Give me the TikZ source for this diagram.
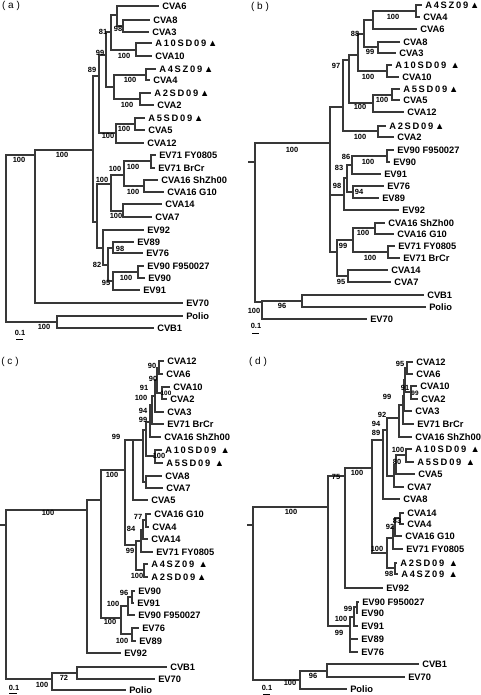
\documentclass[tikz,border=0pt]{standalone}
\usepackage{fontspec}
\setmainfont{Liberation Sans}
\newcounter{bsc}
\tikzset{
  x=0.75pt, y=-0.75pt,
  br/.style={draw=black!78, line width=0.9pt},
  leaf/.style={anchor=west, inner xsep=2.25pt, inner ysep=0pt, text height=5pt, text depth=0pt, font=\fontsize{7}{8}\selectfont\bfseries},
  bs/.style={inner sep=0pt, text height=4pt, text depth=0pt, font=\fontsize{5.6}{6}\selectfont\bfseries},
  bss/.style={inner sep=0pt, text height=3.6pt, text depth=0pt, font=\fontsize{4.8}{5}\selectfont\bfseries},
  plab/.style={inner sep=0pt, font=\fontsize{7.5}{9}\selectfont},
  sbar/.style={draw=black, line width=0.7pt},
}
\newcommand\leafn[4]{\node[leaf] (#1) at ({#2-3},#3) {#4};}
\newcommand\bval[3]{\stepcounter{bsc}\node[bs] (bv\arabic{bsc}) at (#1,#2) {#3};}
\newcommand\bvals[3]{\stepcounter{bsc}\node[bss] (bv\arabic{bsc}) at (#1,#2) {#3};}
\newcommand\clade[2]{\foreach \ch in {#2}{\draw[br] (#1) |- (\ch);}}
\newcommand\lsp[1]{{\addfontfeature{LetterSpace=19}#1}}
\newcommand\trig{▲}
\begin{document}
\begin{tikzpicture}
\useasboundingbox (0,0) rectangle (480,695);
% ================= (a) =================
\node[plab] (pa) at (11,6) {( a )};
\leafn{a1}{162}{6}{CVA6}
\leafn{a2}{153}{20}{CVA8}
\leafn{a3}{152}{32}{CVA3}
\leafn{a4}{155}{43}{\lsp{A10SD09\trig}}
\leafn{a5}{155}{56}{CVA10}
\leafn{a6}{159}{69}{\lsp{A4SZ09\trig}}
\leafn{a7}{153}{80}{CVA4}
\leafn{a8}{154}{93}{\lsp{A2SD09\trig}}
\leafn{a9}{157}{105}{CVA2}
\leafn{a10}{148}{118}{\lsp{A5SD09\trig}}
\leafn{a11}{148}{130}{CVA5}
\leafn{a12}{147}{143}{CVA12}
\leafn{a13}{159}{155}{EV71 FY0805}
\leafn{a14}{158}{168}{EV71 BrCr}
\leafn{a15}{161}{180}{CVA16 ShZh00}
\leafn{a16}{167}{192}{CVA16 G10}
\leafn{a17}{165}{204}{CVA14}
\leafn{a18}{155}{217}{CVA7}
\leafn{a19}{147}{230}{EV92}
\leafn{a20}{137}{242}{EV89}
\leafn{a21}{146}{253}{EV76}
\leafn{a22}{147}{266}{EV90 F950027}
\leafn{a23}{148}{278}{EV90}
\leafn{a24}{143}{290}{EV91}
\leafn{a25}{186}{303}{EV70}
\leafn{a26}{186}{316}{Polio}
\leafn{a27}{157}{328}{CVB1}
\coordinate (aC8C3) at (123,26);
\coordinate (aC6) at (117,15);
\coordinate (aA10) at (136,50);
\coordinate (a81) at (111,32);
\coordinate (aA4) at (146,75);
\coordinate (aA2) at (140,99);
\coordinate (aA4A2) at (114,87);
\coordinate (a99) at (106,55);
\coordinate (aA5) at (135,124);
\coordinate (aA5C12) at (116,133);
\coordinate (a89) at (99,76);
\coordinate (aEV71) at (151,161);
\coordinate (aC16) at (144,186);
\coordinate (aE71C16) at (124,175);
\coordinate (aC14C7) at (123,211);
\coordinate (a100b) at (111,184);
\coordinate (a98e) at (113,248);
\coordinate (aEV90) at (138,272);
\coordinate (a95) at (113,281);
\coordinate (a82) at (108,265);
\coordinate (aEV92) at (103,248);
\coordinate (a97) at (97,222);
\coordinate (aB) at (93,150);
\coordinate (aA) at (35,155);
\coordinate (aP) at (57,322);
\coordinate (aR) at (6,240);
\clade{aC8C3}{a2,a3}
\clade{aC6}{a1,aC8C3}
\clade{aA10}{a4,a5}
\clade{a81}{aC6,aA10}
\clade{aA4}{a6,a7}
\clade{aA2}{a8,a9}
\clade{aA4A2}{aA4,aA2}
\clade{a99}{a81,aA4A2}
\clade{aA5}{a10,a11}
\clade{aA5C12}{aA5,a12}
\clade{a89}{a99,aA5C12}
\clade{aEV71}{a13,a14}
\clade{aC16}{a15,a16}
\clade{aE71C16}{aEV71,aC16}
\clade{aC14C7}{a17,a18}
\clade{a100b}{aE71C16,aC14C7}
\clade{a98e}{a20,a21}
\clade{aEV90}{a22,a23}
\clade{a95}{aEV90,a24}
\clade{a82}{a98e,a95}
\clade{aEV92}{a19,a82}
\clade{a97}{a100b,aEV92}
\clade{aB}{a89,a97}
\clade{aA}{aB,a25}
\clade{aP}{a26,a27}
\clade{aR}{aA,aP}
\bval{103}{32}{81}
\bval{118}{29}{98}
\bval{100}{53}{99}
\bval{124}{56}{100}
\bval{92}{70}{89}
\bval{130}{80}{100}
\bval{127}{105}{100}
\bval{124}{129}{100}
\bval{108}{136}{100}
\bval{62}{155}{100}
\bval{19}{160}{100}
\bval{115}{169}{100}
\bval{133}{167}{100}
\bval{102}{180}{100}
\bval{133}{192}{100}
\bval{116}{216}{100}
\bval{120}{249}{98}
\bval{97}{265}{82}
\bval{126}{278}{100}
\bval{106}{283}{95}
\bval{44}{327}{100}
\node[bs] (sa) at (20,333) {0.1};
\draw[sbar] (16,339) -- (23,339);
% ================= (b) =================
\node[plab] (pb) at (260,7) {( b )};
\leafn{b1}{425}{5}{\lsp{A4SZ09\trig}}
\leafn{b2}{423}{17}{CVA4}
\leafn{b3}{420}{29}{CVA6}
\leafn{b4}{403}{42}{CVA8}
\leafn{b5}{399}{53}{CVA3}
\leafn{b6}{395}{65}{\lsp{A10SD09 \trig}}
\leafn{b7}{402}{77}{CVA10}
\leafn{b8}{403}{89}{\lsp{A5SD09\trig}}
\leafn{b9}{403}{100}{CVA5}
\leafn{b10}{407}{112}{CVA12}
\leafn{b11}{389}{126}{\lsp{A2SD09\trig}}
\leafn{b12}{397}{137}{CVA2}
\leafn{b13}{397}{150}{EV90 F950027}
\leafn{b14}{393}{162}{EV90}
\leafn{b15}{384}{174}{EV91}
\leafn{b16}{387}{186}{EV76}
\leafn{b17}{382}{198}{EV89}
\leafn{b18}{402}{210}{EV92}
\leafn{b19}{388}{223}{CVA16 ShZh00}
\leafn{b20}{397}{234}{CVA16 G10}
\leafn{b21}{398}{246}{EV71 FY0805}
\leafn{b22}{403}{258}{EV71 BrCr}
\leafn{b23}{391}{270}{CVA14}
\leafn{b24}{394}{282}{CVA7}
\leafn{b25}{427}{295}{CVB1}
\leafn{b26}{429}{307}{Polio}
\leafn{b27}{370}{319}{EV70}
\coordinate (bA4) at (416,11);
\coordinate (bA4C6) at (373,20);
\coordinate (bC8C3) at (378,47);
\coordinate (b88) at (364,34);
\coordinate (bA10) at (387,71);
\coordinate (bX) at (358,55);
\coordinate (bA5) at (392,95);
\coordinate (bA5C12) at (373,103);
\coordinate (bY) at (349,60);
\coordinate (bA2) at (378,131);
\coordinate (b97) at (343,107);
\coordinate (bEV90) at (387,156);
\coordinate (b86) at (352,165);
\coordinate (b94) at (353,192);
\coordinate (b83) at (347,178);
\coordinate (b98) at (344,195);
\coordinate (bC16) at (375,228);
\coordinate (bEV71) at (388,252);
\coordinate (b100c) at (353,240);
\coordinate (b95) at (348,276);
\coordinate (b99) at (337,252);
\coordinate (bB) at (330,143);
\coordinate (bCV) at (302,301);
\coordinate (bR2) at (262,302);
\coordinate (bR) at (255,162);
\coordinate (bS) at (248,162);
\clade{bA4}{b1,b2}
\clade{bA4C6}{bA4,b3}
\clade{bC8C3}{b4,b5}
\clade{b88}{bA4C6,bC8C3}
\clade{bA10}{b6,b7}
\clade{bX}{b88,bA10}
\clade{bA5}{b8,b9}
\clade{bA5C12}{bA5,b10}
\clade{bY}{bX,bA5C12}
\clade{bA2}{b11,b12}
\clade{b97}{bY,bA2}
\clade{bEV90}{b13,b14}
\clade{b86}{bEV90,b15}
\clade{b94}{b16,b17}
\clade{b83}{b86,b94}
\clade{b98}{b83,b18}
\clade{bC16}{b19,b20}
\clade{bEV71}{b21,b22}
\clade{b100c}{bC16,bEV71}
\clade{b95}{b23,b24}
\clade{b99}{b100c,b95}
\clade{bB}{b97,b98,b99}
\clade{bCV}{b25,b26}
\clade{bR2}{bCV,b27}
\clade{bR}{bB,bR2}
\draw[br] (bS) -- (bR);
\bval{393}{17}{100}
\bval{355}{34}{88}
\bval{370}{52}{99}
\bval{336}{66}{97}
\bval{368}{77}{100}
\bval{382}{100}{100}
\bval{360}{107}{100}
\bval{360}{137}{100}
\bval{292}{150}{100}
\bval{368}{162}{100}
\bval{346}{157}{86}
\bval{339}{168}{83}
\bval{337}{186}{98}
\bval{359}{192}{94}
\bval{363}{233}{100}
\bval{343}{246}{99}
\bval{370}{258}{100}
\bval{341}{282}{95}
\bval{282}{306}{96}
\bval{254}{311}{100}
\node[bs] (sb) at (256,326) {0.1};
\draw[sbar] (252,333) -- (259,333);
% ================= (c) =================
\node[plab] (pc) at (10,362) {( c )};
\leafn{c1}{167}{361}{CVA12}
\leafn{c2}{166}{374}{CVA6}
\leafn{c3}{173}{387}{CVA10}
\leafn{c4}{170}{399}{CVA2}
\leafn{c5}{167}{412}{CVA3}
\leafn{c6}{167}{424}{EV71 BrCr}
\leafn{c7}{164}{437}{CVA16 ShZh00}
\leafn{c8}{165}{450}{\lsp{A10SD09 \trig}}
\leafn{c9}{166}{463}{\lsp{A5SD09 \trig}}
\leafn{c10}{165}{476}{CVA8}
\leafn{c11}{166}{488}{CVA7}
\leafn{c12}{151}{500}{CVA5}
\leafn{c13}{154}{514}{CVA16 G10}
\leafn{c14}{152}{527}{CVA4}
\leafn{c15}{151}{539}{CVA14}
\leafn{c16}{156}{552}{EV71 FY0805}
\leafn{c17}{151}{564}{\lsp{A4SZ09 \trig}}
\leafn{c18}{151}{577}{\lsp{A2SD09\trig}}
\leafn{c19}{138}{591}{EV90}
\leafn{c20}{137}{603}{EV91}
\leafn{c21}{138}{615}{EV90 F950027}
\leafn{c22}{142}{628}{EV76}
\leafn{c23}{139}{641}{EV89}
\leafn{c24}{124}{653}{EV92}
\leafn{c25}{170}{667}{CVB1}
\leafn{c26}{158}{679}{EV70}
\leafn{c27}{129}{690}{Polio}
\coordinate (c90a) at (159,368);
\coordinate (c100a) at (162,393);
\coordinate (c90b) at (157,380);
\coordinate (c91) at (155,396);
\coordinate (c100x) at (152,405);
\coordinate (c99c) at (150,422);
\coordinate (c100d) at (155,456);
\coordinate (c94) at (146,430);
\coordinate (cC8C7) at (146,482);
\coordinate (c143) at (143,440);
\coordinate (cX) at (133,440);
\coordinate (c77) at (146,520);
\coordinate (c84) at (143,530);
\coordinate (c99e) at (141,541);
\coordinate (cA4A2) at (144,570);
\coordinate (cL) at (136,545);
\coordinate (c99big) at (125,470);
\coordinate (c96) at (132,597);
\coordinate (c100ev) at (128,606);
\coordinate (c100ev2) at (132,634);
\coordinate (c100f) at (121,618);
\coordinate (cBig2) at (101,500);
\coordinate (cA) at (87,510);
\coordinate (cCE) at (77,673);
\coordinate (cP) at (52,679);
\coordinate (cR) at (6,525);
\coordinate (cS) at (0,525);
\clade{c90a}{c1,c2}
\clade{c100a}{c3,c4}
\clade{c90b}{c90a,c100a}
\clade{c91}{c90b,c5}
\clade{c100x}{c91,c6}
\clade{c99c}{c100x,c7}
\clade{c100d}{c8,c9}
\clade{c94}{c99c,c100d}
\clade{cC8C7}{c10,c11}
\clade{c143}{c94,cC8C7}
\clade{cX}{c143,c12}
\clade{c77}{c13,c14}
\clade{c84}{c77,c15}
\clade{c99e}{c84,c16}
\clade{cA4A2}{c17,c18}
\clade{cL}{c99e,cA4A2}
\clade{c99big}{cX,cL}
\clade{c96}{c19,c20}
\clade{c100ev}{c96,c21}
\clade{c100ev2}{c22,c23}
\clade{c100f}{c100ev,c100ev2}
\clade{cBig2}{c99big,c100f}
\clade{cA}{cBig2,c24}
\clade{cCE}{c25,c26}
\clade{cP}{cCE,c27}
\clade{cR}{cA,cP}
\draw[br] (cS) -- (cR);
\bval{152}{366}{90}
\bval{153}{379}{90}
\bvals{166}{393}{100}
\bval{144}{388}{91}
\bval{141}{398}{100}
\bval{143}{411}{94}
\bval{143}{420}{99}
\bval{116}{437}{99}
\bval{159}{456}{100}
\bval{112}{475}{100}
\bval{48}{513}{100}
\bval{138}{517}{77}
\bval{131}{529}{84}
\bval{130}{551}{99}
\bval{137}{576}{100}
\bval{124}{593}{96}
\bval{113}{604}{100}
\bval{110}{622}{100}
\bval{122}{641}{100}
\bval{64}{678}{72}
\bval{42}{685}{100}
\node[bs] (sc) at (14,688) {0.1};
\draw[sbar] (9,693) -- (17,693);
% ================= (d) =================
\node[plab] (pd) at (258,362) {( d )};
\leafn{d1}{416}{362}{CVA12}
\leafn{d2}{416}{374}{CVA6}
\leafn{d3}{420}{386}{CVA10}
\leafn{d4}{421}{399}{CVA2}
\leafn{d5}{415}{411}{CVA3}
\leafn{d6}{417}{424}{EV71 BrCr}
\leafn{d7}{415}{437}{CVA16 ShZh00}
\leafn{d8}{415}{449}{\lsp{A10SD09 \trig}}
\leafn{d9}{417}{462}{\lsp{A5SD09 \trig}}
\leafn{d10}{418}{474}{CVA5}
\leafn{d11}{407}{487}{CVA7}
\leafn{d12}{403}{499}{CVA8}
\leafn{d13}{407}{513}{CVA14}
\leafn{d14}{407}{524}{CVA4}
\leafn{d15}{405}{536}{CVA16 G10}
\leafn{d16}{406}{549}{EV71 FY0805}
\leafn{d17}{400}{563}{\lsp{A2SD09 \trig}}
\leafn{d18}{401}{574}{\lsp{A4SZ09 \trig}}
\leafn{d19}{386}{588}{EV92}
\leafn{d20}{362}{602}{EV90 F950027}
\leafn{d21}{361}{613}{EV90}
\leafn{d22}{361}{626}{EV91}
\leafn{d23}{361}{639}{EV89}
\leafn{d24}{361}{652}{EV76}
\leafn{d25}{422}{664}{CVB1}
\leafn{d26}{408}{677}{EV70}
\leafn{d27}{350}{689}{Polio}
\coordinate (d95) at (407,368);
\coordinate (d99a) at (411,392);
\coordinate (d91) at (405,380);
\coordinate (dC3) at (404,396);
\coordinate (dBr) at (403,405);
\coordinate (d99top) at (399,418);
\coordinate (dA) at (406,455);
\coordinate (dB80) at (396,465);
\coordinate (dC) at (394,476);
\coordinate (d92) at (387,430);
\coordinate (d94) at (383,440);
\coordinate (d83) at (400,518);
\coordinate (d92b) at (395,527);
\coordinate (dEVfy) at (393,538);
\coordinate (dA2A4) at (395,568);
\coordinate (d100low) at (387,553);
\coordinate (d89) at (372,468);
\coordinate (d100mid) at (345,476);
\coordinate (d99ev) at (357,607);
\coordinate (d100ev) at (354,617);
\coordinate (d99ev2) at (350,626);
\coordinate (d75) at (328,507);
\coordinate (dCE) at (327,671);
\coordinate (dP) at (300,680);
\coordinate (dR) at (253,525);
\coordinate (dS) at (247,525);
\clade{d95}{d1,d2}
\clade{d99a}{d3,d4}
\clade{d91}{d95,d99a}
\clade{dC3}{d91,d5}
\clade{dBr}{dC3,d6}
\clade{d99top}{dBr,d7}
\clade{dA}{d8,d9}
\clade{dB80}{dA,d10}
\clade{dC}{dB80,d11}
\clade{d92}{d99top,dC}
\clade{d94}{d92,d12}
\clade{d83}{d13,d14}
\clade{d92b}{d83,d15}
\clade{dEVfy}{d92b,d16}
\clade{dA2A4}{d17,d18}
\clade{d100low}{dEVfy,dA2A4}
\clade{d89}{d94,d100low}
\clade{d100mid}{d89,d19}
\clade{d99ev}{d20,d21}
\clade{d100ev}{d99ev,d22}
\clade{d99ev2}{d100ev,d23,d24}
\clade{d75}{d100mid,d99ev2}
\clade{dCE}{d25,d26}
\clade{dP}{dCE,d27}
\clade{dR}{d75,dP}
\draw[br] (dS) -- (dR);
\bval{400}{364}{95}
\bvals{415}{393}{99}
\bval{405}{388}{91}
\bval{387}{397}{99}
\bval{382}{415}{92}
\bval{376}{424}{94}
\bval{376}{433}{89}
\bval{398}{450}{100}
\bval{397}{462}{80}
\bval{357}{473}{100}
\bval{336}{477}{75}
\bval{291}{512}{100}
\bval{397}{521}{83}
\bval{390}{527}{92}
\bval{377}{549}{100}
\bval{389}{574}{98}
\bval{348}{609}{99}
\bval{341}{619}{100}
\bval{339}{633}{99}
\bval{313}{676}{96}
\bval{290}{683}{100}
\node[bs] (sd) at (267,688) {0.1};
\draw[sbar] (263,694) -- (270,694);
\end{tikzpicture}
\end{document}
